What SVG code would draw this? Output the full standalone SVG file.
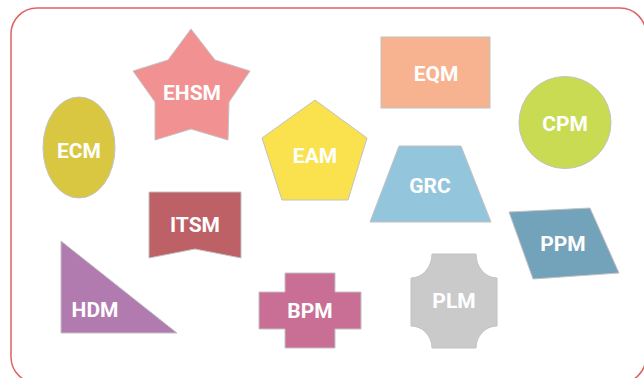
<svg xmlns="http://www.w3.org/2000/svg" width="644" height="378" viewBox="0 0 644 378">
<style>
.s{stroke:#c2c2c2;stroke-width:1}
.t{font-family:Roboto,"Liberation Sans",sans-serif;font-weight:bold;font-size:21px;fill:#ffffff;text-anchor:middle}
</style>
<rect x="0" y="0" width="644" height="378" fill="#ffffff"/>
<rect x="11" y="8" width="635" height="375" rx="26" ry="26" fill="#ffffff" stroke="#e06262" stroke-width="1.5"/>
<g id="EHSM">
<polygon class="s" fill="#f29191" points="191,29 215,60 250,71 229,102 228,140 191,129 155,140 155,102 133,71 168,60"/>
<text class="t" x="192" y="100">EHSM</text>
</g>
<g id="ECM">
<ellipse class="s" fill="#d9c742" cx="79" cy="147.5" rx="36" ry="50.5"/>
<text class="t" x="79" y="158">ECM</text>
</g>
<g id="EAM">
<polygon class="s" fill="#f9e24e" points="315,100 367,138 348,200 282,200 262,138"/>
<text class="t" x="315" y="163">EAM</text>
</g>
<g id="EQM">
<rect class="s" fill="#f7b28f" x="381" y="37" width="109" height="71"/>
<text class="t" x="436" y="81">EQM</text>
</g>
<g id="CPM">
<circle class="s" fill="#c9db52" cx="565" cy="122.5" r="46"/>
<text class="t" x="565" y="131">CPM</text>
</g>
<g id="GRC">
<polygon class="s" fill="#93c6dd" points="399,146 461,146 491,222 370,222"/>
<text class="t" x="430" y="193">GRC</text>
</g>
<g id="PPM">
<polygon class="s" fill="#73a3ba" points="509,212 590,208 619,273 533,279"/>
<text class="t" x="563" y="251">PPM</text>
</g>
<g id="ITSM">
<polygon class="s" fill="#bd6166" points="149,192 241,192 241,258 195,249 149,258"/>
<text class="t" x="195" y="232">ITSM</text>
</g>
<g id="HDM">
<polygon class="s" fill="#b17bb0" points="61,241 177,333 61,333"/>
<text class="t" x="95" y="317">HDM</text>
</g>
<g id="BPM">
<polygon class="s" fill="#c96e94" points="285,273 335,273 335,292 361,292 361,329 335,329 335,348 285,348 285,329 259,329 259,292 285,292"/>
<text class="t" x="310" y="318">BPM</text>
</g>
<g id="PLM">
<path class="s" fill="#cacaca" d="M432,254 L476,254 A21,24 0 0 0 497,278 L497,326 A21,22 0 0 0 476,348 L432,348 A21,22 0 0 0 411,326 L411,278 A21,24 0 0 0 432,254 Z"/>
<text class="t" x="454" y="308">PLM</text>
</g>
<g id="connectors"></g>
</svg>
